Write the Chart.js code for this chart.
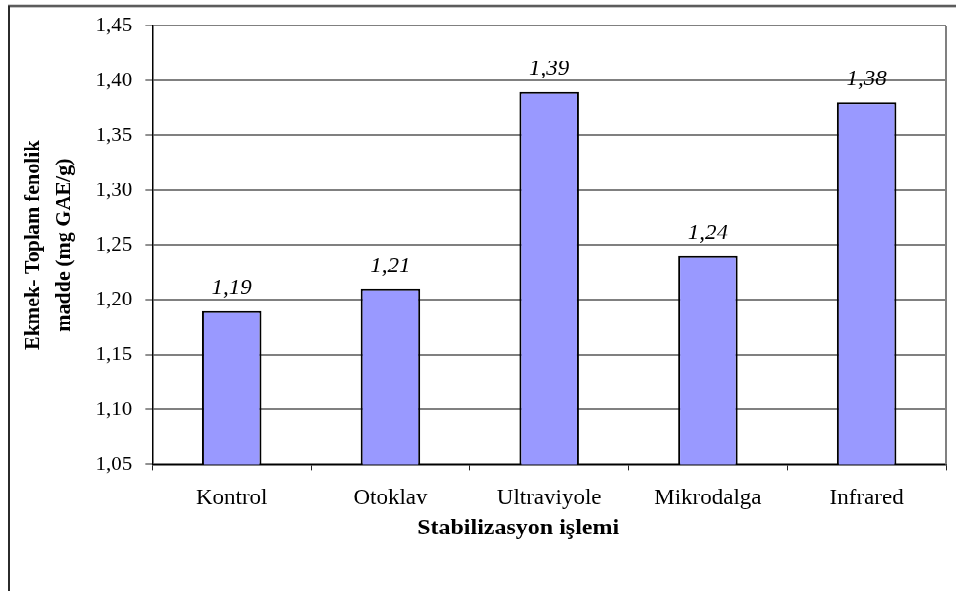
<!DOCTYPE html>
<html>
<head>
<meta charset="utf-8">
<title>Ekmek - Toplam fenolik madde</title>
<script src="https://cdn.jsdelivr.net/npm/chart.js@4/dist/chart.umd.min.js"></script>
<style>
  html, body { margin: 0; padding: 0; background: #fff; overflow: hidden; width: 956px; height: 591px; }
  /* the chart is laid out on a 956x625 sheet and pressed down to 591 px tall */
  #sheet {
    position: absolute; left: 0; top: 0;
    width: 956px; height: 625px;
    transform: scaleY(0.9456);
    transform-origin: 0 0;
  }
  #frame {
    position: absolute; left: 8px; top: 5px;
    width: 1000px; height: 700px;
    border: 2px solid #2b2b2b;
  }
  #wrap { position: absolute; left: 0; top: 0; width: 956px; height: 625px; }
</style>
</head>
<body>
<div id="sheet">
  <div id="frame"></div>
  <div id="wrap"><canvas id="fenolChart"></canvas></div>
</div>
<script>
// Toplam fenolik madde, stabilizasyon işlemine göre
const categories = ['Kontrol', 'Otoklav', 'Ultraviyole', 'Mikrodalga', 'Infrared'];
const fenolValues = [1.19, 1.21, 1.39, 1.24, 1.38];
const yMin = 1.05;
const yMax = 1.45;
const yStep = 0.05;
const yTitle = ['Ekmek- Toplam fenolik', 'madde (mg GAE/g)'];
const xTitle = 'Stabilizasyon işlemi';

const serif = "'Times New Roman', 'Liberation Serif', serif";
const comma = v => Number(v).toFixed(2).replace('.', ',');

// value labels above each bar, plus the right edge of the plot and the x title
const extras = {
    id: 'extras',
    afterDatasetsDraw(chart) {
        const ctx = chart.ctx;
        ctx.save();
        ctx.fillStyle = '#000';
        ctx.font = 'italic 23px ' + serif;
        ctx.textAlign = 'center';
        ctx.textBaseline = 'alphabetic';
        chart.getDatasetMeta(0).data.forEach((bar, i) => {
            ctx.fillText(comma(fenolValues[i]), bar.x, bar.y - 18);
        });
        ctx.restore();
    },
    afterDraw(chart) {
        const ctx = chart.ctx;
        const a = chart.chartArea;
        ctx.save();
        ctx.strokeStyle = '#808080';
        ctx.lineWidth = 2;
        ctx.beginPath();
        ctx.moveTo(Math.round(a.right), a.top);
        ctx.lineTo(Math.round(a.right), a.bottom);
        ctx.stroke();
        ctx.fillStyle = '#000';
        ctx.font = 'bold 24px ' + serif;
        ctx.textAlign = 'center';
        ctx.textBaseline = 'alphabetic';
        ctx.fillText(xTitle, (a.left + a.right) / 2 - 31, a.bottom + 74);
        ctx.restore();
    }
};

new Chart(document.getElementById('fenolChart'), {
    type: 'bar',
    data: {
        labels: categories,
        datasets: [{
            data: fenolValues,
            backgroundColor: '#9999ff',
            borderColor: '#000',
            borderWidth: 2,
            borderSkipped: false,
            categoryPercentage: 1,
            barPercentage: 0.375
        }]
    },
    options: {
        responsive: true,
        maintainAspectRatio: false,
        animation: false,
        layout: { padding: { left: 10, right: 10, top: 27, bottom: 68 } },
        plugins: {
            legend: { display: false },
            tooltip: { enabled: false }
        },
        scales: {
            x: {
                offset: true,
                grid: {
                    offset: true,
                    drawOnChartArea: false,
                    tickLength: 6,
                    tickColor: '#222',
                    tickWidth: 1
                },
                border: { color: '#000', width: 1.5 },
                ticks: {
                    color: '#000',
                    padding: 16,
                    maxRotation: 0,
                    font: { family: serif, size: 23 }
                }
            },
            y: {
                min: yMin,
                max: yMax,
                grid: {
                    color: '#808080',
                    lineWidth: 2,
                    tickLength: 7,
                    tickColor: '#222',
                    tickWidth: 1
                },
                border: { color: '#000', width: 1.5 },
                ticks: {
                    stepSize: yStep,
                    color: '#000',
                    padding: 13,
                    font: { family: serif, size: 21 },
                    callback: v => comma(v)
                },
                title: {
                    display: true,
                    text: yTitle,
                    color: '#000',
                    padding: { top: 8, bottom: 3 },
                    font: { family: serif, size: 22, weight: 'bold', lineHeight: 1.4 }
                }
            }
        }
    },
    plugins: [extras]
});
</script>
</body>
</html>
